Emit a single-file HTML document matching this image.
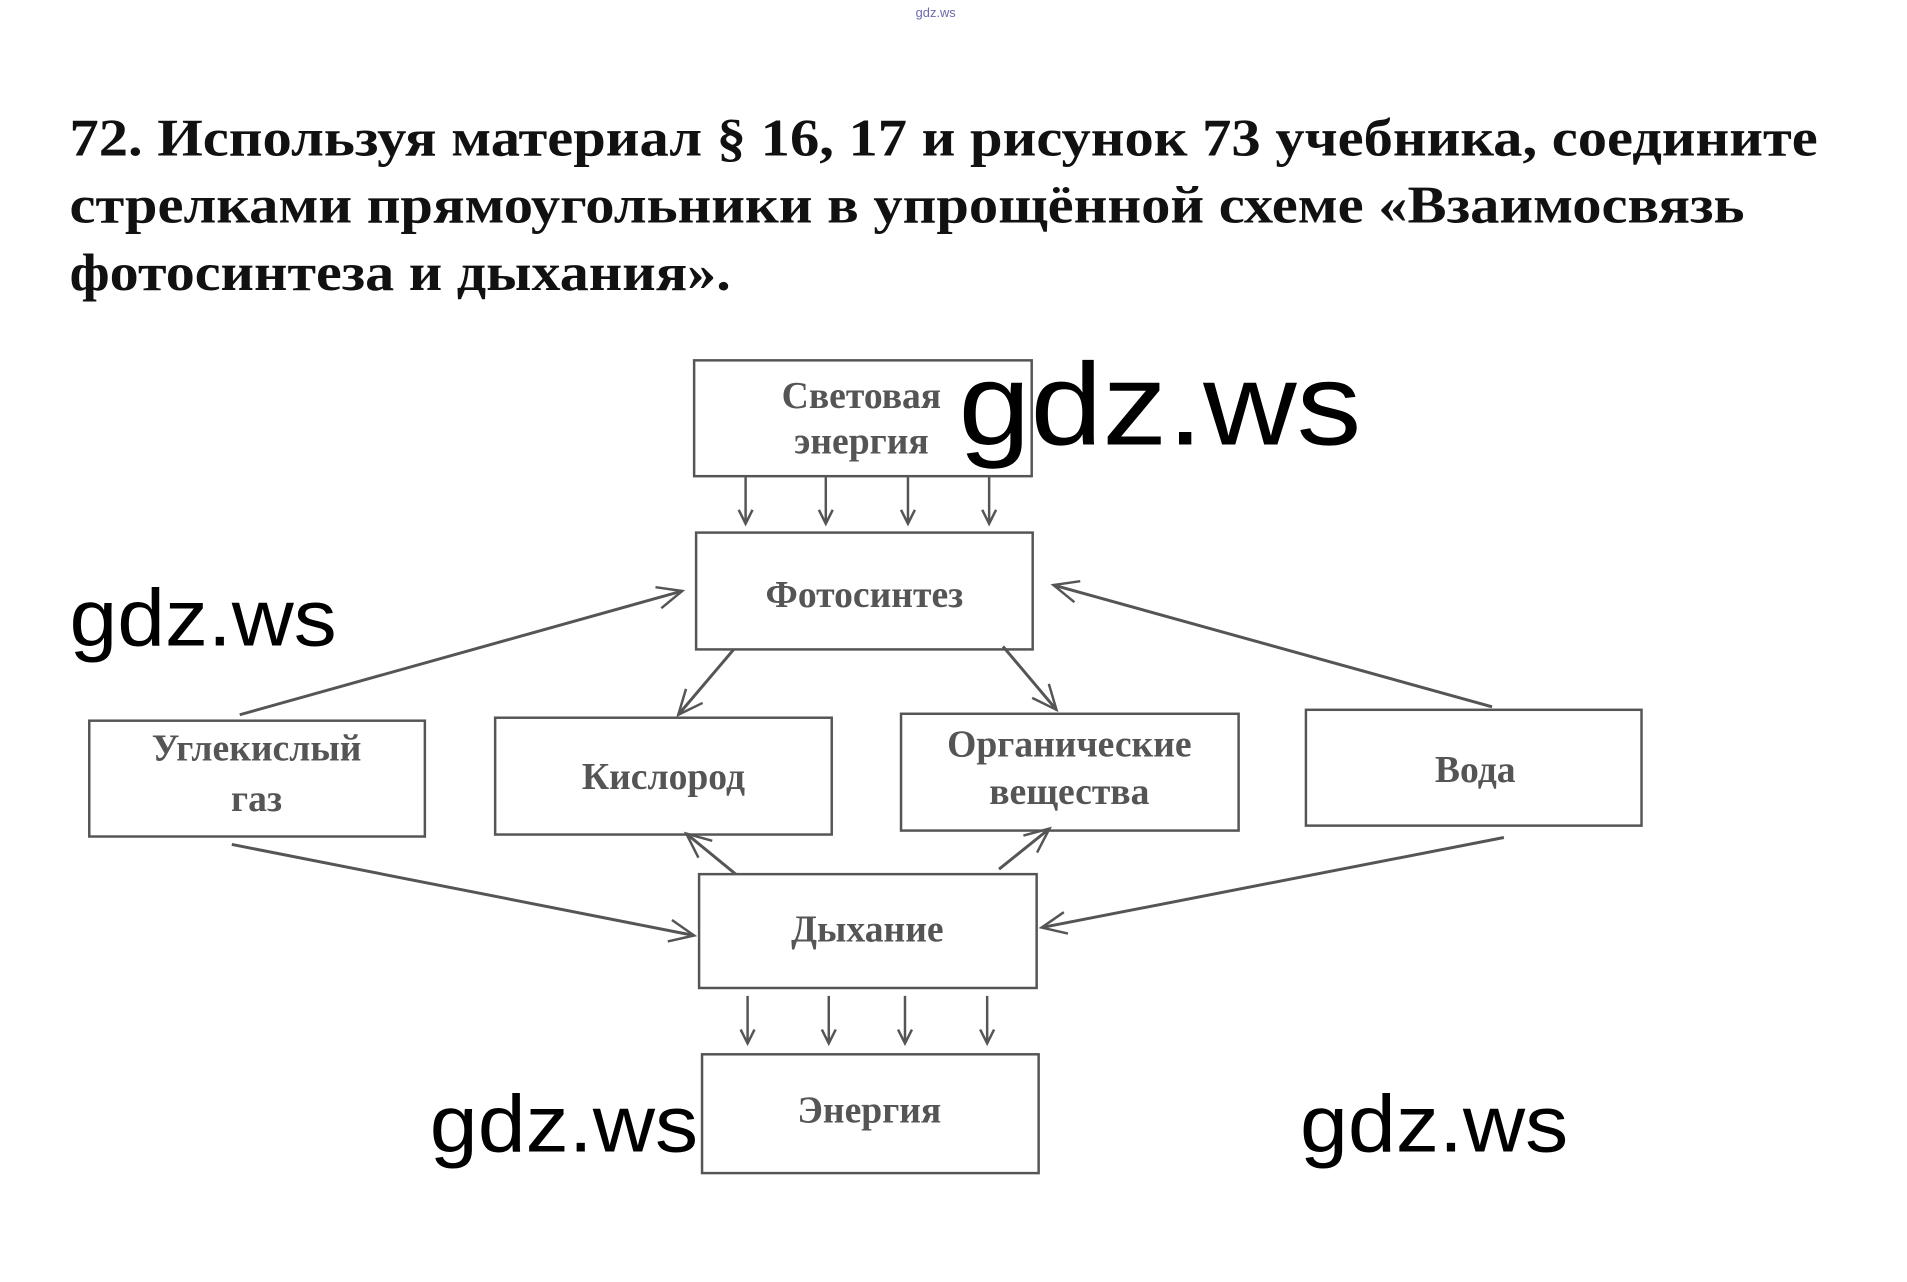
<!DOCTYPE html>
<html><head><meta charset="utf-8"><style>html,body{margin:0;padding:0;background:#fff}svg{display:block}</style></head>
<body>
<svg width="1907" height="1282" viewBox="0 0 1926 1295" xmlns="http://www.w3.org/2000/svg">
<defs>
<marker id="a" markerWidth="18" markerHeight="18" refX="15" refY="9" orient="auto" markerUnits="userSpaceOnUse">
<path d="M1,2 L15,9 L1,16" fill="none" stroke="#555" stroke-width="2.5"/>
</marker>
<marker id="b" markerWidth="30" markerHeight="30" refX="27" refY="15" orient="auto" markerUnits="userSpaceOnUse">
<path d="M2,4 L27,15 L2,26" fill="none" stroke="#555" stroke-width="2.5"/>
</marker>
</defs>
<text x="945" y="17" font-family="Liberation Sans, sans-serif" font-size="13" fill="#6a6ab0" text-anchor="middle">gdz.ws</text>
<g font-family="Liberation Serif, serif" font-weight="bold" font-size="54" fill="#111">
<text x="70" y="157" textLength="1766" lengthAdjust="spacingAndGlyphs">72. Используя материал § 16, 17 и рисунок 73 учебника, соедините</text>
<text x="70" y="225" textLength="1692" lengthAdjust="spacingAndGlyphs">стрелками прямоугольники в упрощённой схеме «Взаимосвязь</text>
<text x="70" y="293" textLength="668" lengthAdjust="spacingAndGlyphs">фотосинтеза и дыхания».</text>
</g>
<g fill="none" stroke="#555" stroke-width="2.5">
<rect x="701" y="364" width="341" height="117"/>
<rect x="703" y="538" width="340" height="118"/>
<rect x="90" y="728" width="339" height="117"/>
<rect x="500" y="725" width="340" height="118"/>
<rect x="910" y="721" width="341" height="118"/>
<rect x="1319" y="717" width="339" height="117"/>
<rect x="706" y="883" width="341" height="115"/>
<rect x="709" y="1065" width="340" height="120"/>
</g>
<g stroke="#555" stroke-width="2.5" fill="none" marker-end="url(#a)">
<line x1="753" y1="482" x2="753" y2="529"/>
<line x1="834" y1="482" x2="834" y2="529"/>
<line x1="917" y1="482" x2="917" y2="529"/>
<line x1="999" y1="482" x2="999" y2="529"/>
<line x1="755" y1="1006" x2="755" y2="1054"/>
<line x1="837" y1="1006" x2="837" y2="1054"/>
<line x1="914" y1="1006" x2="914" y2="1054"/>
<line x1="997" y1="1006" x2="997" y2="1054"/>
</g>
<g stroke="#555" stroke-width="3" fill="none" marker-end="url(#b)">
<line x1="242" y1="722" x2="689" y2="597"/>
<line x1="1507" y1="714" x2="1064" y2="591"/>
<line x1="741" y1="656" x2="685" y2="722"/>
<line x1="1013" y1="653" x2="1067" y2="717"/>
<line x1="743" y1="883" x2="693" y2="842"/>
<line x1="1009" y1="878" x2="1060" y2="837"/>
<line x1="234" y1="853" x2="701" y2="945"/>
<line x1="1519" y1="846" x2="1052" y2="937"/>
</g>
<g font-family="Liberation Serif, serif" font-weight="bold" font-size="38" fill="#555" text-anchor="middle">
<text x="870" y="412">Световая</text>
<text x="870" y="458">энергия</text>
<text x="873" y="613">Фотосинтез</text>
<text x="259" y="768">Углекислый</text>
<text x="259" y="819">газ</text>
<text x="670" y="797">Кислород</text>
<text x="1080" y="764">Органические</text>
<text x="1080" y="812">вещества</text>
<text x="1490" y="790">Вода</text>
<text x="876" y="951">Дыхание</text>
<text x="878" y="1134">Энергия</text>
</g>
<g font-family="Liberation Sans, sans-serif" font-size="118" fill="#000">
<text x="968" y="449" textLength="407" lengthAdjust="spacingAndGlyphs">gdz.ws</text>
<text x="70" y="652" textLength="270" font-size="82" lengthAdjust="spacingAndGlyphs">gdz.ws</text>
<text x="434" y="1163" textLength="271" font-size="82" lengthAdjust="spacingAndGlyphs">gdz.ws</text>
<text x="1313" y="1163" textLength="271" font-size="82" lengthAdjust="spacingAndGlyphs">gdz.ws</text>
</g>
</svg>
</body></html>
